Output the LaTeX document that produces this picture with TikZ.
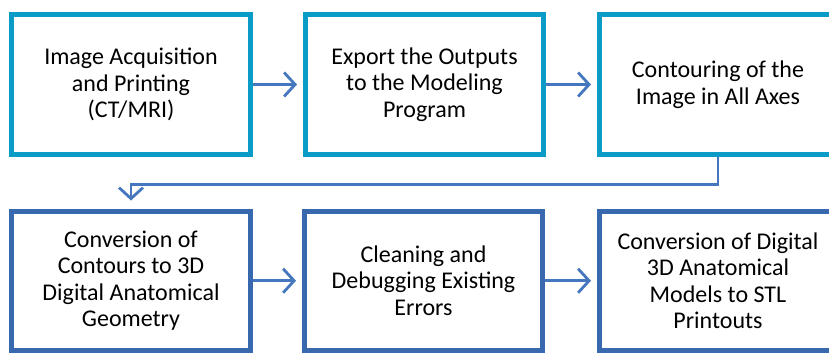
\documentclass[tikz,border=0pt]{standalone}
\usepackage{fontspec}
\setmainfont{Carlito}
\usetikzlibrary{arrows.meta,calc}
\definecolor{topc}{RGB}{10,155,199}
\definecolor{botc}{RGB}{56,105,174}
\definecolor{arrc}{RGB}{69,119,190}
\tikzset{
  boxbase/.style={draw, line width=5pt, fill=white, align=center,
    font=\fontsize{24}{26.5}\selectfont, inner sep=0pt},
  topbox/.style={boxbase, draw=topc, minimum height=140pt},
  botbox/.style={boxbase, draw=botc, minimum height=139.5pt},
  arr/.style={draw=arrc, line width=2.8pt,
    -{Straight Barb[length=11pt,width=24pt,line width=2.8pt]}, shorten >=6pt}
}
\begin{document}
\begin{tikzpicture}[x=1pt,y=-1pt]
\useasboundingbox (0,0) rectangle (829,353);
\clip (0,0) rectangle (829,353);
\node[topbox, minimum width=239pt] (b1) at (131,84.5) {Image Acquisition\\and Printing\\(CT/MRI)};
\node[topbox, minimum width=238pt] (b2) at (424.5,84.5) {Export the Outputs\\to the Modeling\\Program};
\node[topbox, minimum width=237pt] (b3) at (718,84.5) {Contouring of the\\Image in All Axes};
\node[botbox, minimum width=238.5pt] (b4) at (131,280.75) {Conversion of\\Contours to 3D\\Digital Anatomical\\Geometry};
\node[botbox, minimum width=238pt] (b5) at (423.5,280.75) {Cleaning and\\Debugging Existing\\Errors};
\node[botbox, minimum width=237pt] (b6) at (718,280.75) {Conversion of Digital\\3D Anatomical\\Models to STL\\Printouts};
\draw[arr] (b1.east) -- (b2.west);
\draw[arr] (b2.east) -- (b3.west);
\draw[arr] (b4.east) -- (b5.west);
\draw[arr] (b5.east) -- (b6.west);
\draw[arr, line width=2.3pt, shorten >=8pt] (b3.south) -- ++(0,27.5) -| (b4.north);
\end{tikzpicture}
\end{document}
